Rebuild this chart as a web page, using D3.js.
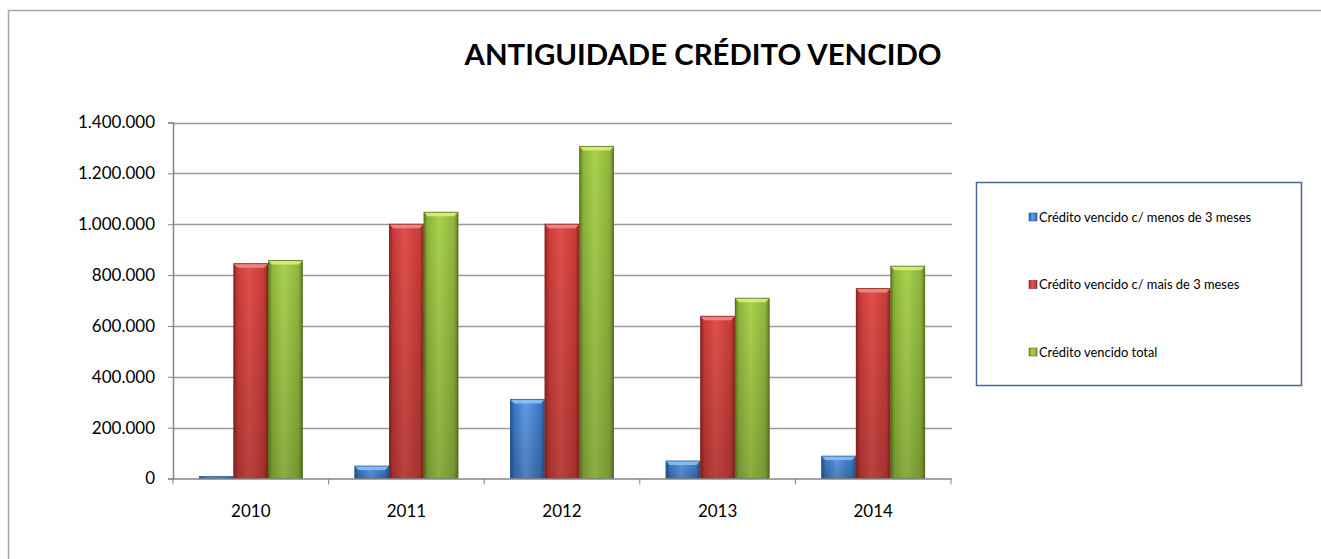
<!DOCTYPE html>
<html>
<head>
<meta charset="utf-8">
<script src="https://cdn.jsdelivr.net/npm/d3@7"></script>
<style>
  body { margin: 0; background: #fff; }
  svg { display: block; font-family: Lato, "Open Sans", sans-serif; }
</style>
</head>
<body>
<div></div>
<script>
const years = ["2010", "2011", "2012", "2013", "2014"];
const seriesNames = ["Crédito vencido c/ menos de 3 meses", "Crédito vencido c/ mais de 3 meses", "Crédito vencido total"];
const menos3 = [8000, 49000, 311000, 69000, 88000];
const mais3 = [845000, 1000000, 1000000, 638000, 747000];
const total = [857000, 1047000, 1306000, 709000, 835000];
const yTicks = [0, 200000, 400000, 600000, 800000, 1000000, 1200000, 1400000];
const seriesValues = [menos3, mais3, total];

const palette = [
  { light: "#5d9be6", base: "#3d78c4", dark: "#25528c", top: "#8cc0f5", edge: "#2a5a9a" },
  { light: "#e0504c", base: "#c83b38", dark: "#8e2321", top: "#f08a88", edge: "#8a2422" },
  { light: "#a9d24e", base: "#8fb53c", dark: "#5f7d22", top: "#d8f07a", edge: "#55701c" }
];

const width = 1321, height = 559;
const plot = { left: 173, right: 951, top: 122.5, bottom: 478.5 };

const svg = d3.select("div").append("svg").attr("width", width).attr("height", height);
const defs = svg.append("defs");

palette.forEach((c, i) => {
  const g = defs.append("linearGradient").attr("id", "hg" + i).attr("x1", 0).attr("x2", 1).attr("y1", 0).attr("y2", 0);
  g.append("stop").attr("offset", "0%").attr("stop-color", c.dark);
  g.append("stop").attr("offset", "12%").attr("stop-color", c.base);
  g.append("stop").attr("offset", "45%").attr("stop-color", c.light);
  g.append("stop").attr("offset", "88%").attr("stop-color", c.base);
  g.append("stop").attr("offset", "100%").attr("stop-color", c.dark);
});
const vg = defs.append("linearGradient").attr("id", "vshade").attr("x1", 0).attr("x2", 0).attr("y1", 0).attr("y2", 1);
vg.append("stop").attr("offset", "0%").attr("stop-color", "#000").attr("stop-opacity", 0);
vg.append("stop").attr("offset", "100%").attr("stop-color", "#000").attr("stop-opacity", 0.18);

// chart area border
svg.append("rect").attr("x", 8.5).attr("y", 10.5).attr("width", 1330).attr("height", 600)
  .attr("fill", "none").attr("stroke", "#a6a6a6").attr("stroke-width", 1.5);

svg.append("text").attr("x", 703).attr("y", 65).attr("text-anchor", "middle")
  .attr("font-size", 28).attr("font-weight", "bold").attr("fill", "#000")
  .attr("textLength", 477).attr("lengthAdjust", "spacingAndGlyphs")
  .text("ANTIGUIDADE CRÉDITO VENCIDO");

const xScale = d3.scaleBand().domain(years).range([plot.left, plot.right]);
const inner = d3.scaleBand().domain(d3.range(3)).range([0, xScale.bandwidth()]).paddingOuter(0.75).paddingInner(0);
const yScale = d3.scaleLinear().domain([0, 1400000]).range([plot.bottom, plot.top]);

// gridlines
svg.append("g").selectAll("line").data(yTicks.slice(1)).join("line")
  .attr("x1", plot.left).attr("x2", plot.right + 1)
  .attr("y1", d => Math.round(yScale(d)) + 0.5).attr("y2", d => Math.round(yScale(d)) + 0.5)
  .attr("stroke", "#9a9a9a").attr("stroke-width", 1.3);

// y axis
const yAxis = d3.axisLeft(yScale).tickValues(yTicks).tickSize(5).tickPadding(13)
  .tickFormat(d => d3.format(",")(d).replace(/,/g, "."));
const yg = svg.append("g").attr("transform", `translate(${plot.left},0)`).call(yAxis);
yg.select(".domain").attr("stroke", "#868686").attr("stroke-width", 1.5);
yg.selectAll(".tick line").attr("stroke", "#868686");
yg.selectAll("text").attr("font-size", 17).attr("font-family", "Lato, sans-serif").attr("fill", "#000");

// bars
const groups = svg.append("g").selectAll("g").data(seriesValues).join("g");
groups.each(function (vals, si) {
  const g = d3.select(this);
  const c = palette[si];
  const bars = g.selectAll("g").data(vals.map((v, i) => ({ year: years[i], v }))).join("g")
    .attr("transform", d => `translate(${xScale(d.year) + inner(si)},${yScale(d.v)})`);
  const w = inner.bandwidth();
  bars.append("rect").attr("width", w).attr("height", d => plot.bottom - yScale(d.v))
    .attr("fill", `url(#hg${si})`);
  bars.append("rect").attr("width", w).attr("height", d => plot.bottom - yScale(d.v))
    .attr("fill", "url(#vshade)");
  const bev = 4;
  bars.filter(d => plot.bottom - yScale(d.v) > bev * 2).append("path")
    .attr("d", `M0,0 L${w},0 L${w - bev},${bev} L${bev},${bev} Z`)
    .attr("fill", c.top).attr("opacity", 0.9);
  bars.append("rect").attr("x", 0.5).attr("width", w - 1).attr("height", d => Math.max(0, plot.bottom - yScale(d.v)))
    .attr("fill", "none").attr("stroke", c.edge).attr("stroke-width", 1).attr("opacity", 0.8);
});

// x axis
const xg = svg.append("g").attr("transform", `translate(0,${plot.bottom})`)
  .call(d3.axisBottom(xScale).tickSize(0).tickPadding(26));
xg.select(".domain").attr("stroke", "#868686").attr("stroke-width", 1.5);
xg.selectAll("text").attr("font-size", 17).attr("font-family", "Lato, sans-serif").attr("fill", "#000");
xg.selectAll(".edge").data(years.map(y => xScale(y)).concat([plot.right])).join("line")
  .attr("class", "edge").attr("x1", d => d).attr("x2", d => d).attr("y1", 0).attr("y2", 6)
  .attr("stroke", "#868686");

// legend
const legend = svg.append("g");
legend.append("rect").attr("x", 976.5).attr("y", 182.5).attr("width", 325).attr("height", 203)
  .attr("fill", "#fff").attr("stroke", "#4a6894").attr("stroke-width", 1.5);
const items = legend.selectAll("g").data(seriesNames).join("g")
  .attr("transform", (d, i) => `translate(1029,${217 + i * 67.5})`);
items.append("rect").attr("x", 0).attr("y", -4).attr("width", 8).attr("height", 8)
  .attr("fill", (d, i) => `url(#hg${i})`).attr("stroke", (d, i) => palette[i].edge).attr("stroke-width", 0.6);
items.append("text").attr("x", 10).attr("dy", "0.35em").attr("font-size", 12.9).attr("fill", "#000")
  .text(d => d);
</script>
</body>
</html>
